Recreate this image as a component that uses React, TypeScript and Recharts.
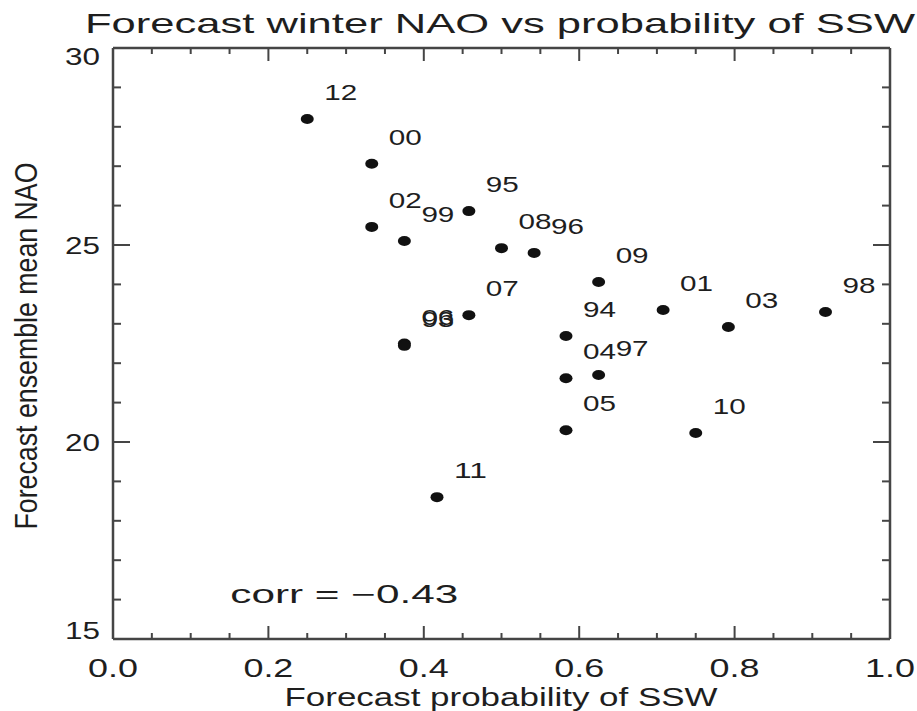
import React from "react";
import { ScatterChart, Scatter, XAxis, YAxis, Customized } from "recharts";

// winter (two-digit year), forecast probability of SSW, forecast ensemble mean NAO
const years = ["12", "00", "02", "99", "95", "08", "96", "09", "07", "06", "93", "94", "01", "03", "98", "04", "97", "05", "10", "11"];
const sswProb = [0.25, 0.333, 0.333, 0.375, 0.458, 0.5, 0.542, 0.625, 0.458, 0.375, 0.375, 0.583, 0.708, 0.792, 0.917, 0.583, 0.625, 0.583, 0.75, 0.417];
const naoMean = [28.2, 27.06, 25.46, 25.1, 25.86, 24.92, 24.8, 24.06, 23.22, 22.5, 22.44, 22.69, 23.35, 22.92, 23.3, 21.62, 21.7, 20.3, 20.23, 18.6];

const xDomain = [0, 1];
const yDomain = [15, 30];
const xMajor = [0, 0.2, 0.4, 0.6, 0.8, 1.0];
const xMajorLabels = ["0.0", "0.2", "0.4", "0.6", "0.8", "1.0"];
const yMajor = [15, 20, 25, 30];
const yMajorLabels = ["15", "20", "25", "30"];
const xMinor = Array.from({ length: 21 }, (_, i) => (i * 5) / 100);
const yMinor = Array.from({ length: 16 }, (_, i) => 15 + i);

const corrNote = [{ p: 0.151, nao: 15.91, text: "corr = \u22120.43" }];

const points = years.map((year, i) => ({ year, p: sswProb[i], nao: naoMean[i] }));

const W = 917;
const H = 711;
const FONT = "'Liberation Sans', Arial, sans-serif";
const AXIS = "#454545";
const INK = "#1e1e1e";

const majorIndex = (v: number, list: number[]) => list.findIndex((m) => Math.abs(m - v) < 1e-6);

function BottomTick({ x, y, payload }: any) {
  const i = majorIndex(payload.value, xMajor);
  const len = i >= 0 ? 13 : 6;
  return (
    <g>
      <line x1={x} x2={x} y1={y} y2={y - len} stroke={AXIS} strokeWidth={2} />
      {i >= 0 && (
        <text x={x} y={y + 38} textAnchor="middle" fontSize={25} fontFamily={FONT} fill={INK}
          textLength={50} lengthAdjust="spacingAndGlyphs">
          {xMajorLabels[i]}
        </text>
      )}
    </g>
  );
}

function TopTick({ x, y, payload }: any) {
  const i = majorIndex(payload.value, xMajor);
  const len = i >= 0 ? 13 : 6;
  return <line x1={x} x2={x} y1={y} y2={y + len} stroke={AXIS} strokeWidth={2} />;
}

function LeftTick({ x, y, payload }: any) {
  const v = payload.value;
  const i = majorIndex(v, yMajor);
  const len = i >= 0 ? 17 : 8;
  const cap = 17;
  // IDL keeps end labels inside the frame
  const shift = v === yDomain[1] ? cap / 2 : v === yDomain[0] ? -cap / 2 : 0;
  return (
    <g>
      <line x1={x} x2={x + len} y1={y} y2={y} stroke={AXIS} strokeWidth={2} />
      {i >= 0 && (
        <text x={x - 13} y={y + shift + cap / 2} textAnchor="end" fontSize={24} fontFamily={FONT} fill={INK}
          textLength={35} lengthAdjust="spacingAndGlyphs">
          {yMajorLabels[i]}
        </text>
      )}
    </g>
  );
}

function RightTick({ x, y, payload }: any) {
  const i = majorIndex(payload.value, yMajor);
  const len = i >= 0 ? 17 : 8;
  return <line x1={x} x2={x - len} y1={y} y2={y} stroke={AXIS} strokeWidth={2} />;
}

function YearDot({ cx, cy, payload }: any) {
  return (
    <g>
      <ellipse cx={cx} cy={cy} rx={6.5} ry={5} fill="#111" />
      <text x={cx + 17} y={cy - 19} fontSize={22} fontFamily={FONT} fill={INK}
        textLength={33} lengthAdjust="spacingAndGlyphs">
        {payload.year}
      </text>
    </g>
  );
}

function CorrText({ cx, cy, payload }: any) {
  return (
    <text x={cx} y={cy} fontSize={25} fontFamily={FONT} fill={INK}
      textLength={228} lengthAdjust="spacingAndGlyphs">
      {payload.text}
    </text>
  );
}

function Titles() {
  return (
    <g fontFamily={FONT} fill={INK}>
      <text x={500} y={33} textAnchor="middle" fontSize={28} textLength={830} lengthAdjust="spacingAndGlyphs">
        Forecast winter NAO vs probability of SSW
      </text>
      <text x={501} y={706} textAnchor="middle" fontSize={26} textLength={433} lengthAdjust="spacingAndGlyphs">
        Forecast probability of SSW
      </text>
      <text x={37} y={346} textAnchor="middle" fontSize={31} textLength={367} lengthAdjust="spacingAndGlyphs"
        transform="rotate(-90 37 346)">
        Forecast ensemble mean NAO
      </text>
    </g>
  );
}

export default function App() {
  const axisLine = { stroke: AXIS, strokeWidth: 2.5 };
  return (
    <div style={{ position: "absolute", left: 0, top: 0, width: W, height: H, background: "#fff" }}>
      <ScatterChart width={W} height={H} margin={{ top: 47, right: 0, bottom: 0, left: 0 }}>
        <XAxis type="number" dataKey="p" domain={xDomain} ticks={xMinor} interval={0} height={72}
          tickSize={0} tickMargin={0} tickLine={false} axisLine={axisLine} tick={<BottomTick />} allowDataOverflow />
        <XAxis xAxisId="top" orientation="top" type="number" dataKey="p" domain={xDomain} ticks={xMinor} interval={0} height={1}
          tickSize={0} tickMargin={0} tickLine={false} axisLine={axisLine} tick={<TopTick />} allowDataOverflow />
        <YAxis type="number" dataKey="nao" domain={yDomain} ticks={yMinor} interval={0} width={113}
          tickSize={0} tickMargin={0} tickLine={false} axisLine={axisLine} tick={<LeftTick />} allowDataOverflow />
        <YAxis yAxisId="right" orientation="right" type="number" dataKey="nao" domain={yDomain} ticks={yMinor} interval={0} width={27}
          tickSize={0} tickMargin={0} tickLine={false} axisLine={axisLine} tick={<RightTick />} allowDataOverflow />
        {/* same points on the mirrored frame axes so their ticks get a scale; nothing drawn */}
        <Scatter data={points} xAxisId="top" yAxisId="right" shape={() => null} isAnimationActive={false} />
        <Scatter data={points} shape={<YearDot />} isAnimationActive={false} />
        <Scatter data={corrNote} shape={<CorrText />} isAnimationActive={false} />
        <Customized component={<Titles />} />
      </ScatterChart>
    </div>
  );
}
